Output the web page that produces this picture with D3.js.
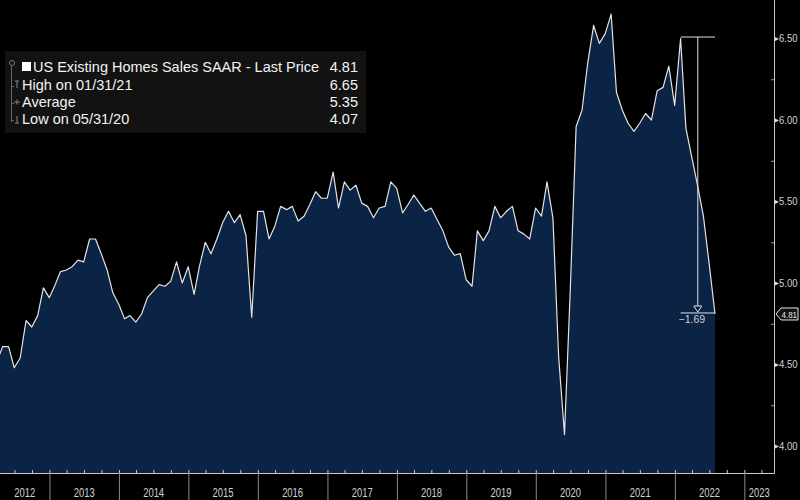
<!DOCTYPE html>
<html>
<head>
<meta charset="utf-8">
<script src="https://cdn.jsdelivr.net/npm/d3@7"></script>
<style>
  body { margin: 0; background: #000; }
  svg { display: block; }
</style>
</head>
<body>
<div id="chart"></div>
<script>
// ==== Data: US existing home sales, SAAR (millions), monthly from Mar 2012 ====
const firstMonth = "2012-03";
const sales2012 = [4.52, 4.61, 4.61, 4.48, 4.54, 4.77, 4.73, 4.80, 4.97, 4.91];
const sales2013 = [4.99, 5.07, 5.08, 5.10, 5.14, 5.13, 5.27, 5.27, 5.18, 5.08, 4.94, 4.87];
const sales2014 = [4.78, 4.80, 4.76, 4.81, 4.91, 4.95, 4.99, 4.98, 5.01, 5.13, 5.00, 5.10];
const sales2015 = [4.93, 5.10, 5.25, 5.18, 5.27, 5.37, 5.44, 5.37, 5.42, 5.29, 4.79, 5.44];
const sales2016 = [5.44, 5.27, 5.35, 5.47, 5.45, 5.47, 5.38, 5.41, 5.48, 5.56, 5.52, 5.52];
const sales2017 = [5.68, 5.46, 5.62, 5.57, 5.60, 5.49, 5.47, 5.40, 5.46, 5.47, 5.62, 5.58];
const sales2018 = [5.43, 5.48, 5.54, 5.49, 5.44, 5.46, 5.39, 5.32, 5.22, 5.17, 5.18, 5.02];
const sales2019 = [4.98, 5.32, 5.26, 5.32, 5.47, 5.40, 5.44, 5.47, 5.32, 5.30, 5.27, 5.46];
const sales2020 = [5.41, 5.62, 5.40, 4.55, 4.07, 4.95, 5.96, 6.06, 6.35, 6.58, 6.47, 6.53];
const sales2021 = [6.65, 6.17, 6.06, 5.98, 5.93, 5.98, 6.04, 6.00, 6.18, 6.20, 6.33, 6.09];
const sales2022 = [6.50, 5.95, 5.77, 5.60, 5.41, 5.12, 4.81];

const yTicks = [4.00, 4.50, 5.00, 5.50, 6.00, 6.50];
const yMinorTicks = [4.25, 4.75, 5.25, 5.75, 6.25];
const yearLabels = ["2012", "2013", "2014", "2015", "2016", "2017", "2018", "2019", "2020", "2021", "2022", "2023"];

const legendLabels = ["US Existing Homes Sales SAAR - Last Price", "High on 01/31/21", "Average", "Low on 05/31/20"];
const legendValues = ["4.81", "6.65", "5.35", "4.07"];

// annotation: from Jan 2022 level down to the last print
const annoFrom = "2022-01";

// ==== Setup ====
const width = 800, height = 500;
const plotRight = 774, plotBottom = 473;

const allSales = [].concat(sales2012, sales2013, sales2014, sales2015, sales2016,
  sales2017, sales2018, sales2019, sales2020, sales2021, sales2022);

const parseMonth = d3.utcParse("%Y-%m");
const monthEnd = m => d3.utcDay.offset(d3.utcMonth.offset(m, 1), -1);
const start = parseMonth(firstMonth);
const series = allSales.map((v, i) => ({ date: monthEnd(d3.utcMonth.offset(start, i)), value: v }));

const svg = d3.select("#chart").append("svg")
  .attr("width", width)
  .attr("height", height)
  .style("background", "#000");

const x = d3.scaleUtc()
  .domain([new Date(Date.UTC(2012, 3, 16)), new Date(Date.UTC(2023, 5, 6))])
  .range([0, plotRight]);

const y = d3.scaleLinear()
  .domain([4 - 27 / 163, 4 + 446 / 163])
  .range([plotBottom, 0]);

const font = "'Liberation Sans', Arial, sans-serif";

// clip
svg.append("defs").append("clipPath").attr("id", "plotClip")
  .append("rect").attr("x", 0).attr("y", 0).attr("width", plotRight).attr("height", plotBottom);

const plot = svg.append("g").attr("clip-path", "url(#plotClip)");

const area = d3.area()
  .x(d => x(d.date))
  .y0(plotBottom)
  .y1(d => y(d.value));

const line = d3.line()
  .x(d => x(d.date))
  .y(d => y(d.value));

plot.append("path")
  .datum(series)
  .attr("d", area)
  .attr("fill", "#0b2344");

plot.append("path")
  .datum(series)
  .attr("d", line)
  .attr("fill", "none")
  .attr("stroke", "#e4e4e4")
  .attr("stroke-width", 1.2)
  .attr("stroke-linejoin", "round");

// ==== Right axis ====
const yAxis = svg.append("g")
  .attr("transform", `translate(${plotRight},0)`)
  .call(d3.axisRight(y).tickValues(yTicks).tickSize(0).tickPadding(5).tickFormat(d3.format(".2f")));
yAxis.select(".domain").remove();
yAxis.selectAll("text")
  .attr("fill", "#d2d2d2")
  .attr("textLength", 18.5)
  .attr("lengthAdjust", "spacingAndGlyphs")
  .style("font-family", font)
  .style("font-size", "10.5px");
yAxis.selectAll(".tick").append("path")
  .attr("d", "M0,-2.5L5,0L0,2.5Z")
  .attr("fill", "#e0e0e0");

const yMinor = svg.append("g")
  .attr("transform", `translate(${plotRight},0)`)
  .call(d3.axisLeft(y).tickValues(yMinorTicks).tickSize(3).tickFormat(""));
yMinor.select(".domain").remove();
yMinor.selectAll("line").attr("stroke", "#9a9a9a");

svg.append("line")
  .attr("x1", plotRight + 0.5).attr("x2", plotRight + 0.5)
  .attr("y1", 0).attr("y2", plotBottom + 0.5)
  .attr("stroke", "#c8c8c8");

// ==== Bottom axis ====
const xQuarter = svg.append("g")
  .attr("transform", `translate(0,${plotBottom})`)
  .call(d3.axisBottom(x).ticks(d3.utcMonth.every(3)).tickSize(-3).tickFormat(""));
xQuarter.select(".domain").attr("stroke", "#c8c8c8").attr("d", `M0,0.5H${plotRight + 0.5}`);
xQuarter.selectAll("line").attr("stroke", "#c8c8c8");

const xYears = svg.append("g")
  .attr("transform", `translate(0,${plotBottom})`)
  .call(d3.axisBottom(x).ticks(d3.utcYear.every(1)).tickSize(27).tickFormat(""));
xYears.select(".domain").remove();
xYears.selectAll("line").attr("stroke", "#8a8a8a");

const clampX = v => Math.max(0, Math.min(plotRight, v));
svg.append("g").selectAll("text")
  .data(yearLabels)
  .join("text")
  .attr("x", d => {
    const a = clampX(x(new Date(Date.UTC(+d, 0, 1))));
    const b = clampX(x(new Date(Date.UTC(+d + 1, 0, 1))));
    return (a + b) / 2;
  })
  .attr("y", 497)
  .attr("text-anchor", "middle")
  .attr("fill", "#d2d2d2")
  .attr("textLength", 21)
  .attr("lengthAdjust", "spacingAndGlyphs")
  .style("font-family", font)
  .style("font-size", "12px")
  .text(d => d);

// ==== Last price tag ====
const last = series[series.length - 1];
const ly = y(last.value);
svg.append("path")
  .attr("d", `M${plotRight + 2},${ly}L${plotRight + 7},${ly - 6}H${plotRight + 24}V${ly + 6}H${plotRight + 7}Z`)
  .attr("fill", "#111")
  .attr("stroke", "#e8e8e8")
  .attr("stroke-width", 1);
svg.append("text")
  .attr("x", plotRight + 7.5)
  .attr("y", ly + 4)
  .attr("fill", "#ececec")
  .attr("textLength", 15.5)
  .attr("lengthAdjust", "spacingAndGlyphs")
  .style("font-family", font)
  .style("font-size", "9px")
  .text(d3.format(".2f")(last.value));

// ==== Change annotation ====
const from = series.find(d => d3.utcFormat("%Y-%m")(d.date) === annoFrom);
const ax1 = x(from.date), ax2 = x(last.date);
const amx = (ax1 + ax2) / 2;
const ayTop = y(from.value) - 1.5, ayBot = y(last.value) - 1;
const anno = svg.append("g").attr("stroke", "#e0e0e0").attr("stroke-width", 1).attr("fill", "none");
anno.append("line").attr("x1", ax1).attr("x2", ax2).attr("y1", ayTop).attr("y2", ayTop);
anno.append("line").attr("x1", ax1).attr("x2", ax2).attr("y1", ayBot).attr("y2", ayBot);
anno.append("line").attr("x1", amx).attr("x2", amx).attr("y1", ayTop).attr("y2", ayBot - 7);
anno.append("path").attr("d", `M${amx - 4},${ayBot - 7}H${amx + 4}L${amx},${ayBot - 1}Z`);
svg.append("text")
  .attr("x", amx - 6)
  .attr("y", ayBot + 10)
  .attr("text-anchor", "middle")
  .attr("fill", "#d0d0d0")
  .style("font-family", font)
  .style("font-size", "10.5px")
  .text(d3.format(".2f")(last.value - from.value));

// ==== Legend ====
const legend = svg.append("g");
legend.append("rect")
  .attr("x", 5).attr("y", 51).attr("width", 361).attr("height", 82)
  .attr("fill", "#121212");

const rowY = [67, 85, 102, 119];
legend.append("line")
  .attr("x1", 11.5).attr("x2", 11.5).attr("y1", 66).attr("y2", 122)
  .attr("stroke", "#666");
legend.append("circle").attr("cx", 12).attr("cy", 63).attr("r", 2.5)
  .attr("fill", "none").attr("stroke", "#777");
[1, 2, 3].forEach(i => {
  legend.append("line").attr("x1", 11.5).attr("x2", 14).attr("y1", rowY[i] + 1.5).attr("y2", rowY[i] + 1.5)
    .attr("stroke", "#666");
});
// high / average / low markers
legend.append("path").attr("d", `M15,${rowY[1] - 4}H19M17,${rowY[1] - 4}V${rowY[1] + 3}`).attr("stroke", "#888").attr("fill", "none");
legend.append("path").attr("d", `M14,${rowY[2]}H20M17,${rowY[2] - 2.5}V${rowY[2] + 2.5}`).attr("stroke", "#888").attr("fill", "none");
legend.append("path").attr("d", `M17,${rowY[3] - 3}V${rowY[3] + 4}M15,${rowY[3] + 4}H19`).attr("stroke", "#888").attr("fill", "none");
legend.append("rect").attr("x", 22).attr("y", rowY[0] - 5).attr("width", 9).attr("height", 9).attr("fill", "#fff");

legend.selectAll("text.lab")
  .data(legendLabels)
  .join("text")
  .attr("class", "lab")
  .attr("x", (d, i) => i === 0 ? 33 : 22)
  .attr("y", (d, i) => rowY[i] + 5)
  .attr("fill", "#f2f2f2")
  .style("font-family", font)
  .style("font-size", "14.5px")
  .text(d => d);

legend.selectAll("text.val")
  .data(legendValues)
  .join("text")
  .attr("class", "val")
  .attr("x", 358)
  .attr("y", (d, i) => rowY[i] + 5)
  .attr("text-anchor", "end")
  .attr("fill", "#f2f2f2")
  .style("font-family", font)
  .style("font-size", "14.5px")
  .text(d => d);
</script>
</body>
</html>
